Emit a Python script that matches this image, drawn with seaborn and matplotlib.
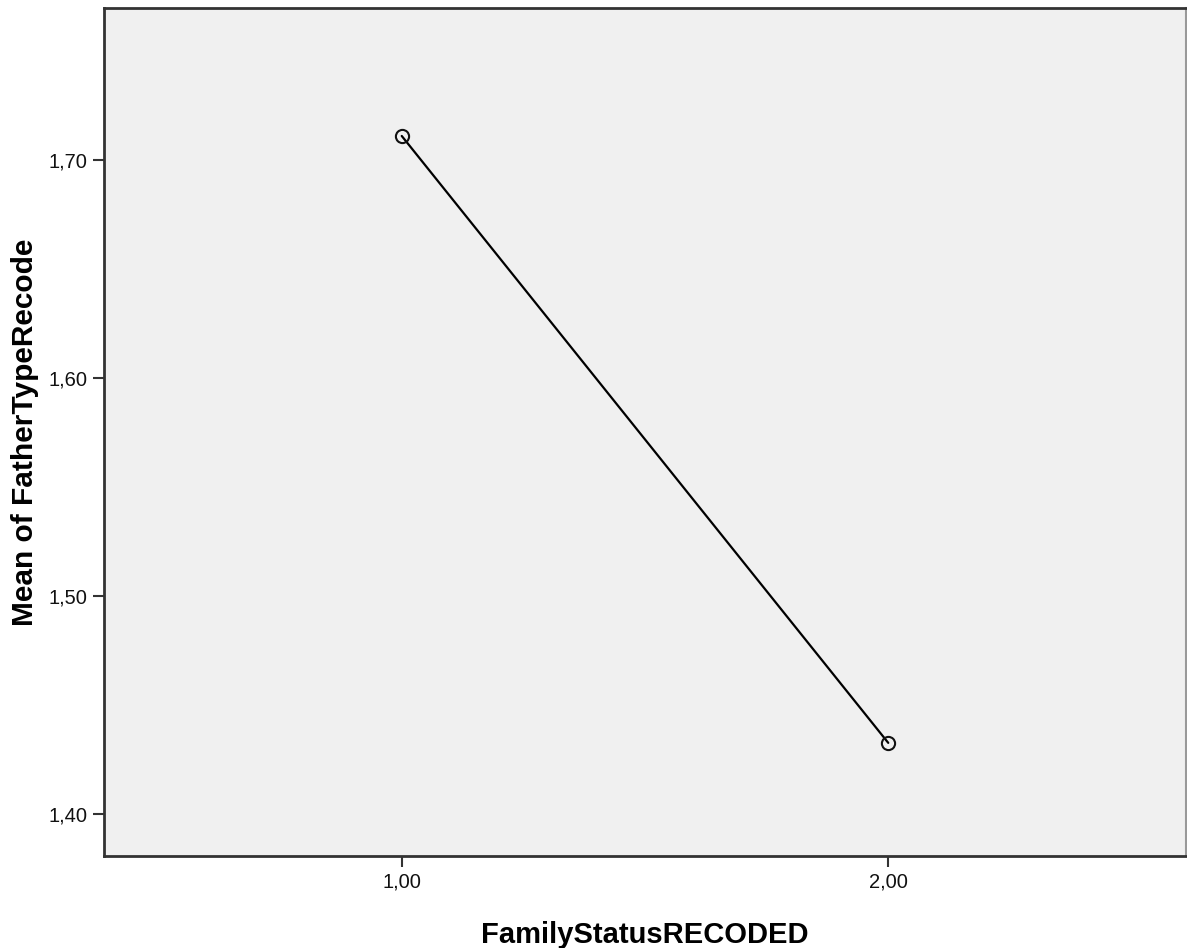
import numpy as np
import pandas as pd
import matplotlib
matplotlib.use('Agg')
import matplotlib.pyplot as plt
import seaborn as sns
from matplotlib.ticker import FuncFormatter

# values
family_status = [1.0, 2.0]
mean_father_type = [1.711, 1.4326]
y_ticks = [1.40, 1.50, 1.60, 1.70]
x_ticks = [1.0, 2.0]

sns.set_theme(style="white")
plt.rcParams['font.family'] = ['Liberation Sans', 'DejaVu Sans']

df = pd.DataFrame({"FamilyStatusRECODED": family_status,
                   "Mean of FatherTypeRecode": mean_father_type})

fig = plt.figure(figsize=(11.87, 9.48), dpi=100)
ax = fig.add_axes([104/1187, 92/948, 1082/1187, 848/948])
ax.set_facecolor('#f0f0f0')

sns.lineplot(data=df, x="FamilyStatusRECODED", y="Mean of FatherTypeRecode",
             color='black', lw=1.6, marker='o', markersize=9.5,
             markerfacecolor='none', markeredgecolor='#111111', markeredgewidth=1.5, ax=ax)

ax.set_xlim(0.388, 2.612)
ax.set_ylim(1.3807, 1.7697)
ax.set_xticks(x_ticks)
ax.set_yticks(y_ticks)
comma = FuncFormatter(lambda v, p: ('%.2f' % v).replace('.', ','))
ax.xaxis.set_major_formatter(comma)
ax.yaxis.set_major_formatter(comma)
ax.tick_params(axis='both', direction='out', length=8, width=1.5, color='#333333',
               labelsize=14.5, labelcolor='#111111', pad=4, bottom=True, left=True)

for side in ['left', 'bottom', 'top']:
    ax.spines[side].set_color('#333333')
    ax.spines[side].set_linewidth(2)
ax.spines['right'].set_color('#999999')
ax.spines['right'].set_linewidth(1.5)

ax.set_xlabel('FamilyStatusRECODED', fontsize=21, fontweight='bold', color='black', labelpad=21)
ax.set_ylabel('Mean of FatherTypeRecode', fontsize=21.5, fontweight='bold', color='black', labelpad=7)

plt.savefig('out.png', dpi=100)
